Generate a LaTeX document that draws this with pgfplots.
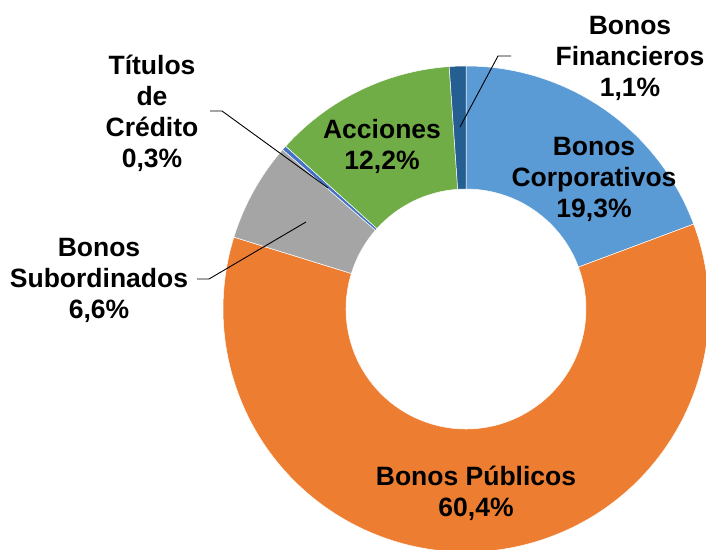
\documentclass[border=0pt]{standalone}
\usepackage{pgfplots}
\usepackage{pgfplotstable}
\usepackage{fontspec}
\setmainfont{Liberation Sans}
\pgfplotsset{compat=1.18}

\definecolor{cCorp}{HTML}{5B9BD5}
\definecolor{cPub}{HTML}{ED7D31}
\definecolor{cSub}{HTML}{A5A5A5}
\definecolor{cTit}{HTML}{4472C4}
\definecolor{cAcc}{HTML}{70AD47}
\definecolor{cFin}{HTML}{255E91}

\tikzset{lbl/.style={font=\fontsize{26.5}{31}\selectfont\bfseries, align=center, inner sep=0pt}}

% slices, clockwise from 12 o'clock
\pgfplotstableread{
label value col
Corporativos 19.3 cCorp
Publicos 60.4 cPub
Subordinados 6.6 cSub
Titulos 0.3 cTit
Acciones 12.2 cAcc
Financieros 1.1 cFin
}\slices

\begin{document}
\begin{tikzpicture}
\begin{axis}[
    x=1pt, y=1pt,
    xmin=0, xmax=706, ymin=0, ymax=549,
    hide axis,
    clip=true,
]
\def\acum{90}
\pgfplotsforeachungrouped \i in {0,...,5}{%
  \pgfplotstablegetelem{\i}{value}\of\slices \let\val\pgfplotsretval
  \pgfplotstablegetelem{\i}{col}\of\slices \let\col\pgfplotsretval
  \pgfmathsetmacro\aa{\acum}
  \pgfmathsetmacro\ab{\acum-(\val/99.9)*360}
  \pgfmathsetmacro\xo{466+243*cos(\aa)}
  \pgfmathsetmacro\yo{240+243*sin(\aa)}
  \pgfmathsetmacro\xi{466+120*cos(\ab)}
  \pgfmathsetmacro\yi{240+120*sin(\ab)}
  \edef\cmd{\noexpand\fill[\col, draw=white, line width=0.5pt]
    (axis cs:\xo,\yo) arc[start angle=\aa, end angle=\ab, radius=243pt]
    -- (axis cs:\xi,\yi) arc[start angle=\ab, end angle=\aa, radius=120pt] -- cycle;}%
  \cmd
  \global\let\acum\ab
}

% leader lines
\draw[black, line width=0.9pt] (axis cs:460,422) -- (axis cs:498,493) -- (axis cs:511,493);
\draw[black, line width=0.9pt] (axis cs:210,438) -- (axis cs:222,438) -- (axis cs:328,361);
\draw[black, line width=0.9pt] (axis cs:197,270) -- (axis cs:209,270) -- (axis cs:306,327);

% labels
\node[lbl] at (axis cs:630,491) {Bonos\\Financieros\\1,1\%};
\node[lbl] at (axis cs:594,370) {Bonos\\Corporativos\\19,3\%};
\node[lbl] at (axis cs:382,403) {Acciones\\12,2\%};
\node[lbl] at (axis cs:152,436) {Títulos\\de\\Crédito\\0,3\%};
\node[lbl] at (axis cs:99,269) {Bonos\\Subordinados\\6,6\%};
\node[lbl] at (axis cs:476,56) {Bonos Públicos\\60,4\%};
\end{axis}
\pgfresetboundingbox
\path (current axis.south west) rectangle (current axis.north east);
\end{tikzpicture}
\end{document}
